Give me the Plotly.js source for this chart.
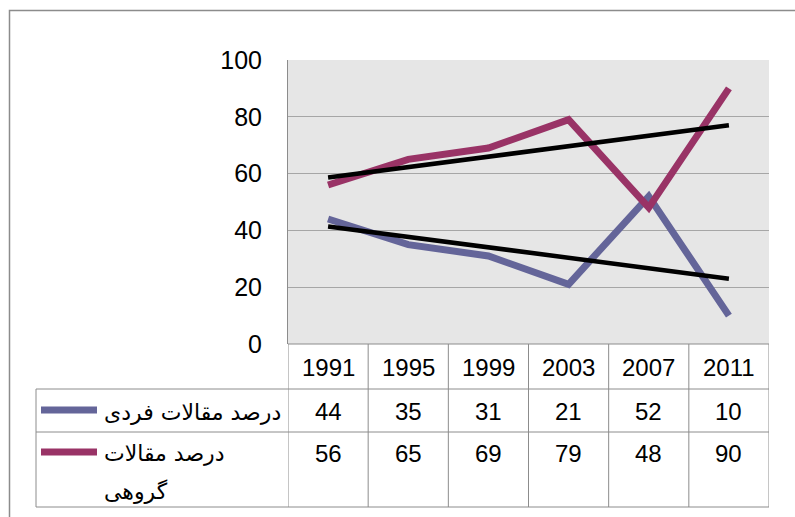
<!DOCTYPE html>
<html>
<head>
<meta charset="utf-8">
<script src="https://cdn.plot.ly/plotly-3.0.1.min.js"></script>
<style>html,body{margin:0;padding:0;background:#fff;}#chart{width:795px;height:517px;}</style>
</head>
<body>
<div id="chart"></div>
<script>
// ---- data ----
const years = ['1991', '1995', '1999', '2003', '2007', '2011'];
const individualName = 'درصد مقالات فردی';
const groupNameLine1 = 'درصد مقالات';
const groupNameLine2 = 'گروهی';
const individualPct = [44, 35, 31, 21, 52, 10];
const groupPct = [56, 65, 69, 79, 48, 90];
// linear trendline end points (at 1991 and 2011)
const trendYears = ['1991', '2011'];
const individualTrend = [41.4, 23.0];
const groupTrend = [58.6, 77.0];

// ---- geometry helpers (pixel -> paper) ----
const W = 795, H = 517;
const L = 288, R = 769, T = 60, B = 344;
const px = v => (v - L) / (R - L);
const py = v => (B - v) / (B - T);

const blue = '#646599', maroon = '#993366', grid = '#a6a6a6', border = '#8c8c8c';
const FONT = 'Liberation Sans, Arial, DejaVu Sans, sans-serif';
const AFONT = 'DejaVu Sans, Liberation Sans, sans-serif';

const traces = [
  {x: years, y: individualPct, type: 'scatter', mode: 'lines', name: individualName,
   line: {color: blue, width: 7}, hoverinfo: 'skip'},
  {x: years, y: groupPct, type: 'scatter', mode: 'lines', name: groupNameLine1 + ' ' + groupNameLine2,
   line: {color: maroon, width: 7}, hoverinfo: 'skip'},
  {x: trendYears, y: individualTrend, type: 'scatter', mode: 'lines', line: {color: '#000', width: 4.5}, hoverinfo: 'skip'},
  {x: trendYears, y: groupTrend, type: 'scatter', mode: 'lines', line: {color: '#000', width: 4.5}, hoverinfo: 'skip'}
];

const shapes = [];
const annotations = [];
const line = (x0, y0, x1, y1, xref, color, w) => shapes.push({type: 'line', xref: xref || 'paper', yref: 'paper',
  x0, y0, x1, y1, line: {color: color || border, width: w || 1}, layer: 'above'});

// outer chart border
shapes.push({type: 'rect', xref: 'paper', yref: 'paper', x0: px(9.5), y0: py(600), x1: px(900), y1: py(10.5),
  line: {color: border, width: 1.5}, fillcolor: 'rgba(0,0,0,0)', layer: 'below'});

// table rows
const rowTop = 344, rowYear = 389, rowInd = 432, rowGrp = 507;
line(px(288), py(rowTop), px(769), py(rowTop));
[rowYear, rowInd, rowGrp].forEach(y => line(px(36), py(y), px(769), py(y)));
// table columns: boundaries half way between categories (category axis)
for (let i = 0; i <= years.length; i++) {
  shapes.push({type: 'line', xref: 'x', yref: 'paper', x0: i - 0.5, x1: i - 0.5, y0: py(rowTop), y1: py(rowGrp),
    line: {color: border, width: 1}, layer: 'above'});
}
line(px(36), py(rowYear), px(36), py(rowGrp));

// table texts (category axis: annotation x is the category index)
years.forEach((yr, i) => {
  annotations.push({x: i, xref: 'x', y: py(367), yref: 'paper', text: yr, showarrow: false,
    font: {family: FONT, size: 24, color: '#000'}, xanchor: 'center', yanchor: 'middle'});
  annotations.push({x: i, xref: 'x', y: py(411), yref: 'paper', text: String(individualPct[i]), showarrow: false,
    font: {family: FONT, size: 24, color: '#000'}, xanchor: 'center', yanchor: 'middle'});
  annotations.push({x: i, xref: 'x', y: py(453), yref: 'paper', text: String(groupPct[i]), showarrow: false,
    font: {family: FONT, size: 24, color: '#000'}, xanchor: 'center', yanchor: 'middle'});
});

// legend keys
shapes.push({type: 'line', xref: 'paper', yref: 'paper', x0: px(41), x1: px(97), y0: py(410), y1: py(410),
  line: {color: blue, width: 7}, layer: 'above'});
shapes.push({type: 'line', xref: 'paper', yref: 'paper', x0: px(41), x1: px(97), y0: py(452), y1: py(452),
  line: {color: maroon, width: 7}, layer: 'above'});
annotations.push({x: px(102), xref: 'paper', y: py(412), yref: 'paper', text: individualName, showarrow: false,
  font: {family: AFONT, size: 22, color: '#000'}, xanchor: 'left', yanchor: 'middle'});
annotations.push({x: px(102), xref: 'paper', y: py(453), yref: 'paper', text: groupNameLine1, showarrow: false,
  font: {family: AFONT, size: 22, color: '#000'}, xanchor: 'left', yanchor: 'middle'});
annotations.push({x: px(102), xref: 'paper', y: py(491), yref: 'paper', text: groupNameLine2, showarrow: false,
  font: {family: AFONT, size: 22, color: '#000'}, xanchor: 'left', yanchor: 'middle'});

const layout = {
  width: W, height: H,
  margin: {l: L, r: W - R, t: T, b: H - B, pad: 0},
  paper_bgcolor: '#ffffff', plot_bgcolor: '#e6e6e6',
  showlegend: false,
  xaxis: {type: 'category', range: [-0.5, years.length - 0.5], showticklabels: false, showgrid: false,
    zeroline: false, showline: false, ticks: '', fixedrange: true},
  yaxis: {range: [0, 100], tick0: 0, dtick: 20, showgrid: true, gridcolor: grid, gridwidth: 1.3,
    zeroline: false, showline: true, linecolor: border, linewidth: 1, ticks: '',
    ticklabelstandoff: 20,
    tickfont: {family: FONT, size: 25, color: '#000'}, fixedrange: true},
  shapes, annotations
};

Plotly.newPlot('chart', traces, layout, {staticPlot: true, displayModeBar: false});
</script>
</body>
</html>
